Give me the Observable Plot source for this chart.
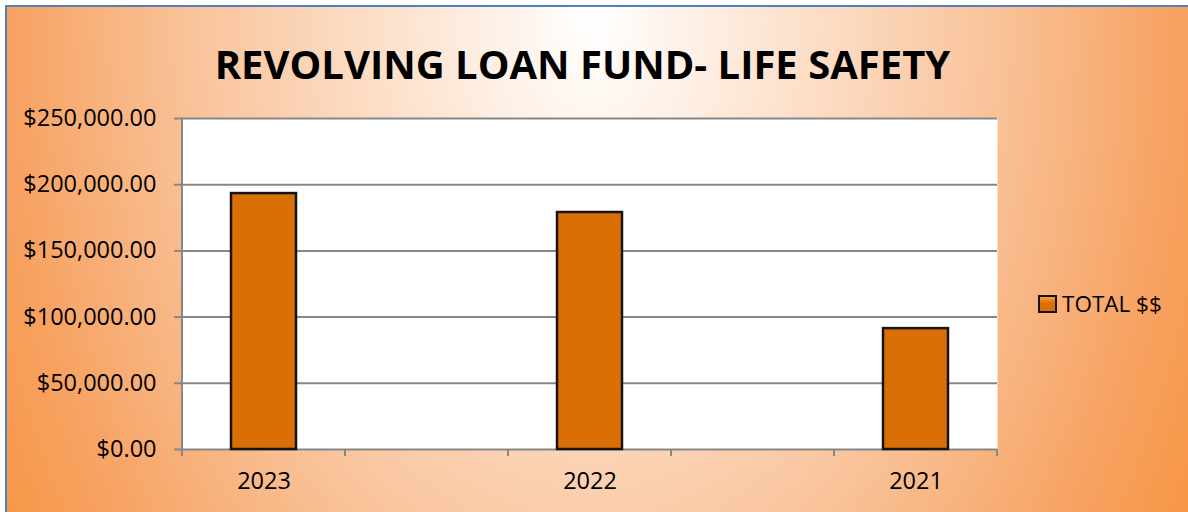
<!DOCTYPE html>
<html>
<head>
<meta charset="utf-8">
<script src="https://cdn.jsdelivr.net/npm/d3@7"></script>
<script src="https://cdn.jsdelivr.net/npm/@observablehq/plot@0.6"></script>
<style>
  html, body { margin: 0; padding: 0; background: #fff; width: 1188px; height: 512px; overflow: hidden; }
  #frame {
    position: absolute; left: 5px; top: 5px; width: 1200px; height: 520px;
    border: 2px solid #4f81bd; box-sizing: border-box;
    background: radial-gradient(ellipse 680px 1000px at 585px 15px, #ffffff 0%, #fde6d4 25%, #f9c49c 58%, #f7a363 85%, #f79646 100%);
  }
  #chart { position: absolute; left: 0; top: 0; }
  #title {
    position: absolute; left: 0; top: 37px; width: 1165px; text-align: center;
    font-family: "Open Sans", sans-serif; font-weight: bold; font-size: 40px; line-height: 54px; color: #000;
    white-space: nowrap;
  }
  #legend {
    position: absolute; left: 1038px; top: 288px; display: flex; align-items: center;
    font-family: "Open Sans", sans-serif; font-size: 22.5px; color: #000;
  }
  #legend .sw {
    width: 15px; height: 14px; border: 2px solid #151515; margin-right: 5px;
    background: linear-gradient(#f6a040, #d96f05 45%);
  }
</style>
</head>
<body>
<div id="frame"></div>
<div id="chart"></div>
<div id="title"></div>
<div id="legend"></div>
<script>
// ---- data ----
const chartTitle = "REVOLVING LOAN FUND- LIFE SAFETY";
const seriesName = "TOTAL $$";
const years = ["2023", "2022", "2021"];
const totals = [193300, 179000, 91300];
const yTicks = [0, 50000, 100000, 150000, 200000, 250000];

// category slots: the original has empty categories between the years
const slots = [];
years.forEach((y, i) => { slots.push(y); if (i < years.length - 1) slots.push(" ".repeat(i + 1)); });
const data = years.map((y, i) => ({year: y, total: totals[i]}));

const gridColor = "#878787";

// left axis line and category boundary ticks (Excel style)
function boundaryTicks(index, scales, values, dims) {
  const {width, height, marginLeft, marginRight, marginTop, marginBottom} = dims;
  const n = slots.length;
  const step = (width - marginLeft - marginRight) / n;
  const y0 = height - marginBottom;
  const g = d3.create("svg:g").attr("stroke", gridColor).attr("stroke-width", 2);
  for (let i = 0; i <= n; i++) {
    const x = marginLeft + i * step;
    g.append("line").attr("x1", x).attr("x2", x).attr("y1", y0).attr("y2", y0 + 7);
  }
  g.append("line").attr("x1", marginLeft).attr("x2", marginLeft).attr("y1", marginTop).attr("y2", y0);
  return g.node();
}

const fmt = d3.format(",.2f");

const plot = Plot.plot({
  width: 1188,
  height: 512,
  marginLeft: 182,
  marginRight: 191,
  marginTop: 118,
  marginBottom: 63,
  style: {fontFamily: "Open Sans, sans-serif", fontSize: "23.5px", color: "#000", background: "transparent", overflow: "visible"},
  x: {type: "band", domain: slots, paddingInner: 0.6, paddingOuter: 0.3},
  y: {domain: [0, 250000]},
  marks: [
    Plot.frame({fill: "white", stroke: null}),
    Plot.gridY({ticks: yTicks, stroke: gridColor, strokeOpacity: 1, strokeWidth: 2}),
    Plot.axisY({ticks: yTicks, tickFormat: d => "$" + fmt(d), tickSize: 8, tickPadding: 18,
      stroke: gridColor, strokeWidth: 2, strokeOpacity: 1, fontSize: 23.5, label: null}),
    Plot.axisX({ticks: years, tickSize: 0, tickPadding: 23, fontSize: 23.5, label: null}),
    boundaryTicks,
    Plot.barY(data, {x: "year", y: "total", fill: "#d96f05", stroke: "#141414", strokeWidth: 2.5})
  ]
});
document.getElementById("chart").appendChild(plot);
document.getElementById("title").textContent = chartTitle;
document.getElementById("legend").innerHTML = '<span class="sw"></span><span></span>';
document.querySelector("#legend span:last-child").textContent = seriesName;
</script>
</body>
</html>
